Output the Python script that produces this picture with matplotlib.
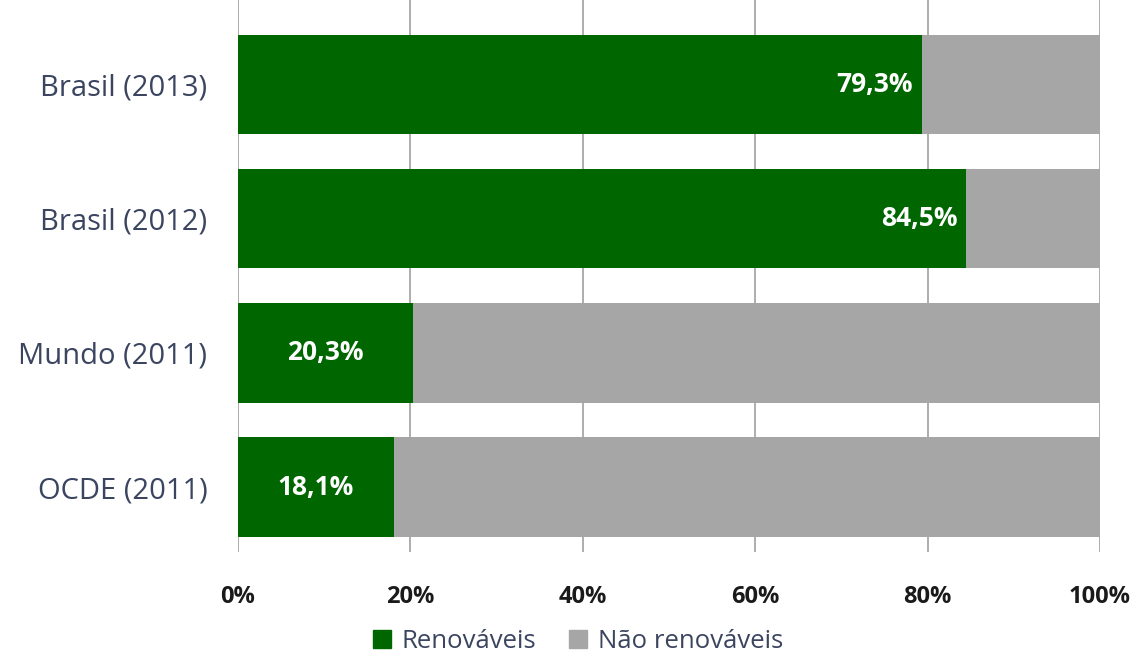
import matplotlib
matplotlib.use("Agg")
import matplotlib.pyplot as plt
from matplotlib.patches import Patch

categories = ["OCDE (2011)", "Mundo (2011)", "Brasil (2012)", "Brasil (2013)"]
renovaveis = [18.1, 20.3, 84.5, 79.3]
nao_renovaveis = [100 - v for v in renovaveis]
labels = ["18,1%", "20,3%", "84,5%", "79,3%"]
ticks = [0, 20, 40, 60, 80, 100]
tick_labels = ["0%", "20%", "40%", "60%", "80%", "100%"]

green = "#006600"
gray = "#a6a6a6"
textcol = "#3b4560"

plt.rcParams['font.family'] = ['Open Sans', 'DejaVu Sans']

fig = plt.figure(figsize=(11.37, 6.55), dpi=100)
ax = fig.add_axes([238/1137, 1 - 552/655, (1100-238)/1137, 552/655])

y = list(range(len(categories)))
ax.barh(y, renovaveis, height=0.74, color=green, zorder=3)
ax.barh(y, nao_renovaveis, left=renovaveis, height=0.74, color=gray, zorder=3)

for yi, v, lab in zip(y, renovaveis, labels):
    if v > 50:
        ax.text(v - 1.0, yi, lab, ha="right", va="center", color="white",
                fontsize=19, fontweight="bold", zorder=4)
    else:
        ax.text(v / 2, yi, lab, ha="center", va="center", color="white",
                fontsize=19, fontweight="bold", zorder=4)

ax.set_xlim(0, 100)
ax.set_ylim(-0.484, 3.63)
ax.set_xticks(ticks)
ax.set_xticklabels(tick_labels, fontsize=17, fontweight="bold", color="#1a1a1a")
ax.set_yticks(y)
ax.set_yticklabels(categories, fontsize=21, color=textcol)
ax.tick_params(axis="x", length=0, pad=24)
ax.tick_params(axis="y", length=0, pad=22)
ax.grid(axis="x", color="#a0a0a0", linewidth=1.2, zorder=0)
for s in ax.spines.values():
    s.set_visible(False)

handles = [Patch(color=green, label="Renováveis"), Patch(color=gray, label="Não renováveis")]
fig.legend(handles=handles, loc="center", bbox_to_anchor=(578/1137, 1 - 641/655),
           ncol=2, frameon=False, fontsize=18.5, handlelength=0.7, handleheight=0.7,
           handletextpad=0.4, columnspacing=1.3, labelcolor=textcol)

fig.savefig("out.png", dpi=100)
